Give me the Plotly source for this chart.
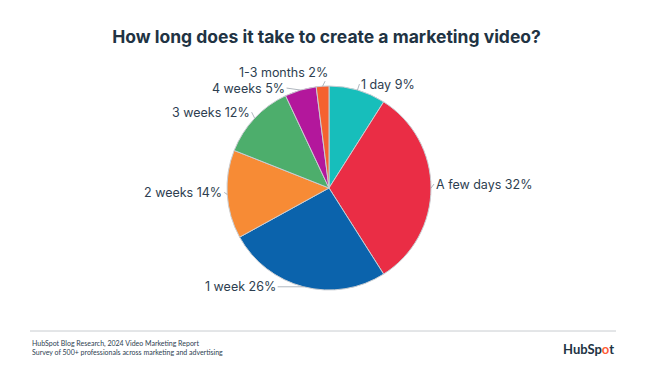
import math
import plotly.graph_objects as go

labels = ["1 day", "A few days", "1 week", "2 weeks", "3 weeks", "4 weeks", "1-3 months"]
values = [9, 32, 26, 14, 12, 5, 2]
colors = ["#17BEBB", "#EA2D45", "#0B63AC", "#F78B35", "#4DAE6C", "#B3179C", "#F5612F"]
# label nudges (pixels, relative to slice edge) and which side the text sits on
label_dx = [2, 3, -26, -3, -3, -14, 7]
label_dy = [-6, -4, 0, -2, -6, -2, -14]
label_side = ["left", "left", "right", "right", "right", "right", "right"]

title = "How long does it take to create a marketing video?"
source1 = "HubSpot Blog Research, 2024 Video Marketing Report"
source2 = "Survey of 500+ professionals across marketing and advertising"

W, H = 653, 368
PIE_TOP, PIE_BOTTOM = 86, 290
R = (PIE_BOTTOM - PIE_TOP) / 2
CX, CY = 329, (PIE_TOP + PIE_BOTTOM) / 2
PIE_X = [(CX - 300) / W, (CX + 300) / W]

fig = go.Figure(go.Pie(
    labels=labels, values=values, sort=False, direction="clockwise", rotation=0,
    marker=dict(colors=colors, line=dict(color="#C9CDD2", width=1)),
    textinfo="none", automargin=False,
    domain=dict(x=PIE_X, y=[1 - PIE_BOTTOM / H, 1 - PIE_TOP / H]),
    showlegend=False, hoverinfo="label+value",
))

annotations = []
total = sum(values)
cum = 0
for lab, v, dx, dy, side in zip(labels, values, label_dx, label_dy, label_side):
    mid = (cum + v / 2) / total * 2 * math.pi
    cum += v
    ex = CX + R * math.sin(mid)
    ey = CY - R * math.cos(mid)
    annotations.append(dict(
        text=f"{lab} {v}%", xref="paper", yref="paper", x=ex / W, y=1 - ey / H,
        ax=dx, ay=dy, axref="pixel", ayref="pixel", xanchor=side, yanchor="middle",
        showarrow=True, arrowhead=0, arrowwidth=0.8, arrowcolor="#9AA3AD", standoff=0,
        font=dict(family="Inter", size=12.5, color="#2D3E50"),
    ))

annotations += [
    dict(text=source1 + "<br>" + source2, xref="paper", yref="paper", x=30 / W, y=1 - 337 / H,
         xanchor="left", yanchor="top", align="left", showarrow=False,
         font=dict(family="Lato", size=7, color="#2D3E50")),
    dict(text="<b>HubSp<span style='color:#FF5C35'>o</span>t</b>", xref="paper", yref="paper",
         x=616 / W, y=1 - 349 / H, xanchor="right", yanchor="middle", showarrow=False,
         font=dict(family="Lato", size=13, color="#213343")),
]

fig.update_layout(
    width=W, height=H, margin=dict(l=0, r=0, t=0, b=0, autoexpand=False),
    paper_bgcolor="white", plot_bgcolor="white",
    title=dict(text="<b>" + title + "</b>", x=0.5, xanchor="center", y=1 - 37 / H, yanchor="middle",
               font=dict(family="Inter", size=17.5, color="#213343")),
    shapes=[dict(type="line", xref="paper", yref="paper", x0=30 / W, x1=616 / W,
                 y0=1 - 331 / H, y1=1 - 331 / H, line=dict(color="#C8CCD0", width=1))],
    annotations=annotations,
)
fig.write_html("out.html", config={"displayModeBar": False},
               post_script="document.body.style.margin='0';document.body.style.overflow='hidden';")
